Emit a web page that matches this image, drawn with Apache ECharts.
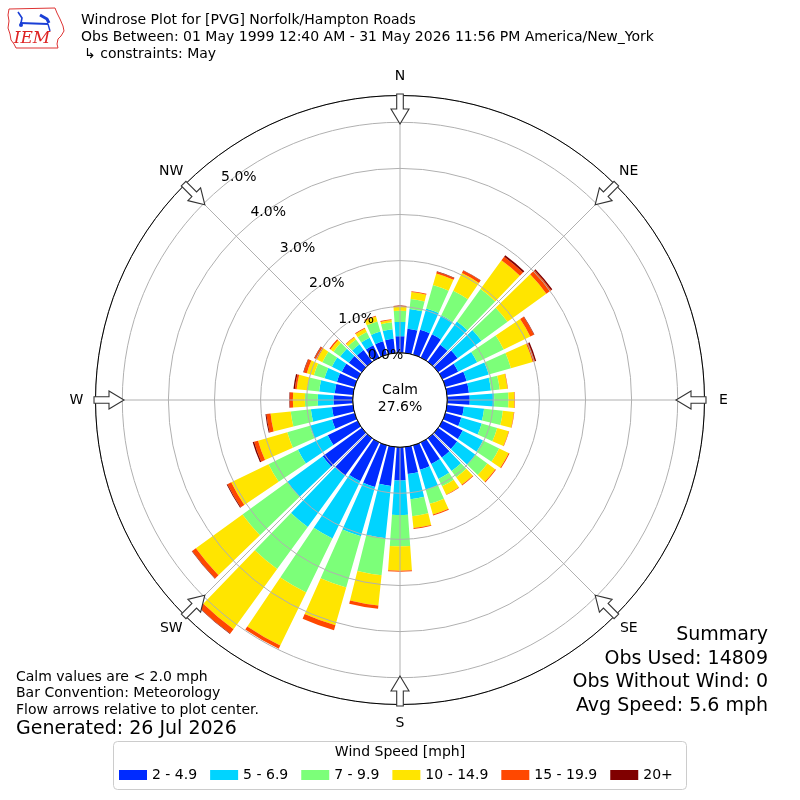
<!DOCTYPE html>
<html><head><meta charset="utf-8">
<script src="https://cdn.jsdelivr.net/npm/echarts@6/dist/echarts.min.js"></script>
<style>html,body{margin:0;padding:0;background:#fff}#c{width:800px;height:800px}</style>
</head><body><div id="c"></div>
<script>
// ---------- data ----------
const directions = ['0','10','20','30','40','50','60','70','80','90','100','110','120','130','140','150','160','170',
  '180','190','200','210','220','230','240','250','260','270','280','290','300','310','320','330','340','350'];
const speedBins = ['2 - 4.9','5 - 6.9','7 - 9.9','10 - 14.9','15 - 19.9','20+'];
const binColors = ['#002bff','#00d4ff','#7cff79','#ffe500','#ff4800','#800000'];
// percent of observations per direction, per speed bin
const speed2to4_9 = [.36,.53,.56,.56,.46,.52,.38,.48,.48,.49,.37,.36,.49,.51,.52,.52,.55,.59,.72,.85,.94,.94,1.00,1.05,.72,.51,.46,.42,.40,.40,.38,.35,.32,.30,.30,.31];
const speed5to6_9 = [.31,.43,.48,.46,.62,.64,.46,.50,.48,.53,.44,.46,.49,.49,.36,.36,.45,.55,.75,1.14,1.11,1.38,1.38,.95,.72,.50,.46,.34,.34,.28,.24,.23,.15,.18,.22,.21];
const speed7to9_9 = [.24,.22,.53,.59,.87,.70,.64,.50,.19,.31,.41,.35,.39,.32,.17,.18,.32,.37,.68,.81,1.16,1.30,1.13,1.20,.71,.51,.44,.28,.26,.24,.23,.18,.13,.14,.23,.15];
const speed10to14_9 = [.09,.15,.26,.43,.77,1.04,.64,.49,.17,.13,.24,.26,.23,.21,.20,.20,.24,.26,.53,.66,.85,1.28,1.61,1.25,.90,.66,.44,.26,.23,.16,.13,.08,.06,.08,.11,.05];
const speed15to19_9 = [.02,.02,.04,.06,.10,.13,.09,.05,.01,.01,.01,.01,.02,.02,.02,.01,.02,.02,.02,.07,.11,.08,.12,.10,.09,.09,.09,.07,.04,.07,.06,.03,.01,.02,.02,.02];
const speed20plus = [0,0,.01,.01,.04,.03,.01,.03,0,0,0,0,0,0,0,0,0,0,0,0,0,0,.01,.01,.02,.03,.02,.01,.03,.01,.01,0,0,0,0,0];
const radiusTicks = [0,1,2,3,4,5];
const compassLabels = ['N','NE','E','SE','S','SW','W','NW'];
const compassAngles = [0,45,90,135,180,225,270,315];
const calmPct = 27.6;
const titleLines = ['Windrose Plot for [PVG] Norfolk/Hampton Roads',
  'Obs Between: 01 May 1999 12:40 AM - 31 May 2026 11:56 PM America/New_York',
  '\u21b3 constraints: May'];
const noteLines = ['Calm values are < 2.0 mph','Bar Convention: Meteorology','Flow arrows relative to plot center.'];
const generatedText = 'Generated: 26 Jul 2026';
const summaryLines = ['Summary','Obs Used: 14809','Obs Without Wind: 0','Avg Speed: 5.6 mph'];
const legendTitle = 'Wind Speed [mph]';

// ---------- chart ----------
const binValues = [speed2to4_9, speed5to6_9, speed7to9_9, speed10to14_9, speed15to19_9, speed20plus];
const FONT = 'DejaVu Sans';
const FS = 14;
const BIG = 19;
const CENTER = [400, 400], INNER = 47.2, OUTER = 304.5;
const RMAX = (OUTER - INNER) / 46.1;

const chart = echarts.init(document.getElementById('c'), null, {renderer: 'canvas'});
chart.setOption({
  animation: false,
  textStyle: {fontFamily: FONT},
  polar: [
    {center: CENTER, radius: [INNER, OUTER]},
    {center: CENTER, radius: [INNER, OUTER]}
  ],
  angleAxis: [
    {polarIndex: 0, type: 'category', data: directions, startAngle: 95, clockwise: true, boundaryGap: true,
     axisLine: {show: false}, axisTick: {show: false}, axisLabel: {show: false}, splitLine: {show: false}},
    {polarIndex: 1, type: 'value', min: 0, max: 360, interval: 45, startAngle: 90, clockwise: true, z: 4,
     axisLine: {show: true, lineStyle: {color: '#000', width: 1}}, axisTick: {show: false},
     axisLabel: {show: false}, splitLine: {show: true, lineStyle: {color: '#b0b0b0', width: 1}}}
  ],
  radiusAxis: [
    {polarIndex: 0, type: 'value', min: 0, max: RMAX,
     axisLine: {show: false}, axisTick: {show: false}, axisLabel: {show: false}, splitLine: {show: false}},
    {polarIndex: 1, type: 'value', min: 0, max: RMAX, interval: 1, z: 3,
     axisLine: {show: false}, axisTick: {show: false}, axisLabel: {show: false},
     splitLine: {show: true, lineStyle: {color: '#b0b0b0', width: 1}}, splitArea: {show: false}}
  ],
  legend: {
    data: speedBins, left: 119, top: 768, itemWidth: 28, itemHeight: 10, itemGap: 13, icon: 'rect',
    selectedMode: false, padding: 0, textStyle: {fontFamily: FONT, fontSize: FS, color: '#000'}
  },
  series: speedBins.map((name, i) => ({
    type: 'bar', name: name, coordinateSystem: 'polar', polarIndex: 0, stack: 'wind',
    data: binValues[i], barCategoryGap: '20%', itemStyle: {color: binColors[i]}, silent: true
  }))
});

// ---------- annotations derived from the polar scale ----------
function pt(r, a) {
  let p = chart.convertToPixel({polarIndex: 1}, [r, a]);
  if (!p) {
    const rr = INNER + (OUTER - INNER) * r / RMAX, t = a * Math.PI / 180;
    p = [CENTER[0] + rr * Math.sin(t), CENTER[1] - rr * Math.cos(t)];
  }
  return p;
}
const pN = pt(0, 0), pS = pt(0, 180);
const cx = (pN[0] + pS[0]) / 2, cy = (pN[1] + pS[1]) / 2;
const innerR = Math.hypot(pN[0] - pS[0], pN[1] - pS[1]) / 2;
const pTop = pt(RMAX, 0);
const outerR = Math.hypot(pTop[0] - cx, pTop[1] - cy);

function txt(text, x, y, opts) {
  opts = opts || {};
  return {type: 'text', x: x, y: y, z: 50, silent: true,
    style: {text: text, fill: opts.fill || '#000', fontSize: opts.size || FS,
      fontFamily: opts.family || FONT, fontStyle: opts.style || 'normal',
      align: opts.align || 'left', verticalAlign: opts.va || 'middle'}};
}

const els = [];
// calm circle
els.push({type: 'circle', z: 40, silent: true, shape: {cx: cx, cy: cy, r: innerR},
  style: {fill: '#fff', stroke: '#000', lineWidth: 1}});
els.push(txt('Calm', cx, cy - 10, {align: 'center'}));
els.push(txt(calmPct.toFixed(1) + '%', cx, cy + 7, {align: 'center'}));

// radius labels
radiusTicks.forEach(k => {
  const p = pt(k, 320.5);
  els.push(txt(k.toFixed(1) + '%', p[0] + 15.5, p[1] - 8.6, {align: 'center'}));
});

// compass labels and flow arrows
compassAngles.forEach((a, i) => {
  const p = pt(RMAX, a);
  const ux = (p[0] - cx) / outerR, uy = (p[1] - cy) / outerR;
  els.push(txt(compassLabels[i], cx + ux * (outerR + 19), cy + uy * (outerR + 19), {align: 'center'}));
  const bx = cx + ux * (outerR + 1.5), by = cy + uy * (outerR + 1.5);
  const ix = -ux, iy = -uy, qx = -iy, qy = ix;
  const local = [[0, -3.3], [15, -3.3], [15, -9], [30, 0], [15, 9], [15, 3.3], [0, 3.3]];
  const pts = local.map(([s, w]) => [bx + ix * s + qx * w, by + iy * s + qy * w]);
  els.push({type: 'polygon', z: 45, silent: true, shape: {points: pts},
    style: {fill: '#fff', stroke: '#333', lineWidth: 1.1}});
});

// header
els.push(txt(titleLines[0], 81, 20));
els.push(txt(titleLines[1], 81, 37));
els.push(txt(titleLines[2], 84, 54));

// logo
els.push({type: 'polyline', z: 30, silent: true,
  shape: {points: [[9,9],[55,8],[57,13],[60,19],[63,26],[64,31],[61,36],[58,39],[57,44],[58,48],[16,48],[14,44],[11,40],[10,34],[8,28],[9,21],[8,15],[9,9]]},
  style: {stroke: '#d33', lineWidth: 1, fill: null}});
els.push({type: 'polyline', z: 31, silent: true, shape: {points: [[20,23],[48,24]]}, style: {stroke: '#1a3fd6', lineWidth: 2.2}});
els.push({type: 'polyline', z: 31, silent: true, shape: {points: [[18,12],[22,18],[21,23]]}, style: {stroke: '#1a3fd6', lineWidth: 1.6, fill: null}});
els.push({type: 'polyline', z: 31, silent: true, shape: {points: [[40,15],[47,19],[49,23]]}, style: {stroke: '#1a3fd6', lineWidth: 3, fill: null}});
els.push({type: 'polyline', z: 31, silent: true, shape: {points: [[48,24],[50,31]]}, style: {stroke: '#1a3fd6', lineWidth: 1.4, fill: null}});
els.push({type: 'circle', z: 31, silent: true, shape: {cx: 21, cy: 25, r: 2}, style: {fill: '#1a3fd6'}});
els.push(txt('IEM', 32, 39, {align: 'center', fill: '#d22', size: 17, family: 'DejaVu Serif', style: 'italic'}));

// notes bottom-left
els.push(txt(noteLines[0], 16, 677));
els.push(txt(noteLines[1], 16, 693));
els.push(txt(noteLines[2], 16, 710));
els.push(txt(generatedText, 16, 729, {size: BIG}));

// summary bottom-right
summaryLines.forEach((s, i) => els.push(txt(s, 768, 635 + i * 23.7, {align: 'right', size: BIG})));

// legend frame and title
els.push({type: 'rect', z: 1, silent: true, shape: {x: 113.5, y: 741.5, width: 573, height: 48, r: 4},
  style: {fill: '#fff', stroke: '#cccccc', lineWidth: 1}});
els.push(txt(legendTitle, 400, 752, {align: 'center'}));

chart.setOption({graphic: {elements: els}});
</script>
</body></html>
